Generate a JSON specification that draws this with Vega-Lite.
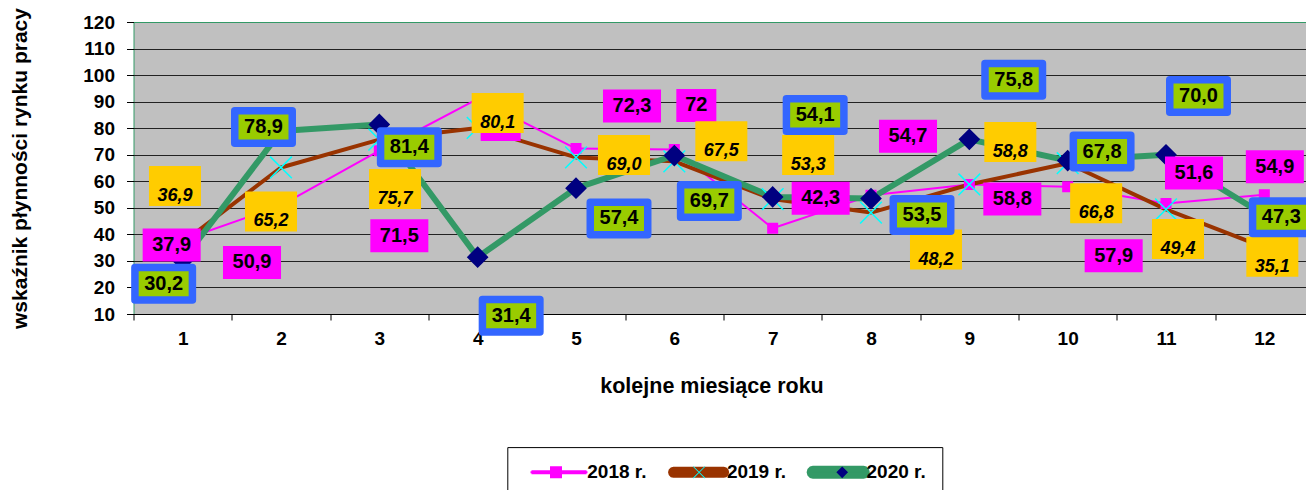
{
  "$schema": "https://vega.github.io/schema/vega-lite/v6.json",
  "autosize": "none",
  "padding": {"left": 133.5, "top": 22, "right": -7.5, "bottom": 176},
  "width": 1180,
  "height": 292,
  "config": {
    "font": "Liberation Sans",
    "locale": {"number": {"decimal": ",", "thousands": " ", "grouping": [3], "currency": ["", " zł"]}},
    "view": {"fill": "#c0c0c0", "stroke": "#339966", "strokeWidth": 1}
  },
  "data": {"values": [
    {"series": "2018 r.", "month": 1, "value": 37.9},
    {"series": "2018 r.", "month": 2, "value": 50.9},
    {"series": "2018 r.", "month": 3, "value": 71.5},
    {"series": "2018 r.", "month": 4, "value": 91},
    {"series": "2018 r.", "month": 5, "value": 72.3},
    {"series": "2018 r.", "month": 6, "value": 72},
    {"series": "2018 r.", "month": 7, "value": 42.3},
    {"series": "2018 r.", "month": 8, "value": 54.7},
    {"series": "2018 r.", "month": 9, "value": 58.8},
    {"series": "2018 r.", "month": 10, "value": 57.9},
    {"series": "2018 r.", "month": 11, "value": 51.6},
    {"series": "2018 r.", "month": 12, "value": 54.9},
    {"series": "2019 r.", "month": 1, "value": 36.9},
    {"series": "2019 r.", "month": 2, "value": 65.2},
    {"series": "2019 r.", "month": 3, "value": 75.7},
    {"series": "2019 r.", "month": 4, "value": 80.1},
    {"series": "2019 r.", "month": 5, "value": 69.0},
    {"series": "2019 r.", "month": 6, "value": 67.5},
    {"series": "2019 r.", "month": 7, "value": 53.3},
    {"series": "2019 r.", "month": 8, "value": 48.2},
    {"series": "2019 r.", "month": 9, "value": 58.8},
    {"series": "2019 r.", "month": 10, "value": 66.8},
    {"series": "2019 r.", "month": 11, "value": 49.4},
    {"series": "2019 r.", "month": 12, "value": 35.1},
    {"series": "2020 r.", "month": 1, "value": 30.2},
    {"series": "2020 r.", "month": 2, "value": 78.9},
    {"series": "2020 r.", "month": 3, "value": 81.4},
    {"series": "2020 r.", "month": 4, "value": 31.4},
    {"series": "2020 r.", "month": 5, "value": 57.4},
    {"series": "2020 r.", "month": 6, "value": 69.7},
    {"series": "2020 r.", "month": 7, "value": 54.1},
    {"series": "2020 r.", "month": 8, "value": 53.5},
    {"series": "2020 r.", "month": 9, "value": 75.8},
    {"series": "2020 r.", "month": 10, "value": 67.8},
    {"series": "2020 r.", "month": 11, "value": 70.0},
    {"series": "2020 r.", "month": 12, "value": 47.3}
  ]},
  "encoding": {
    "x": {
      "field": "month", "type": "ordinal", "bandPosition": 0.5,
      "scale": {"type": "band", "paddingInner": 0, "paddingOuter": 0},
      "axis": {
        "title": "kolejne miesiące roku", "labelAngle": 0, "tickBand": "extent",
        "tickSize": 6, "tickColor": "black", "domainColor": "black", "grid": false,
        "labelPadding": 9, "labelFont": "Liberation Sans", "labelFontSize": 19, "labelFontWeight": "bold", "labelColor": "black",
        "titleFont": "Liberation Sans", "titleFontSize": 21.5, "titleFontWeight": "bold", "titleColor": "black", "titlePadding": 27,
        "titleX": 578
      }
    },
    "y": {
      "field": "value", "type": "quantitative",
      "scale": {"domain": [10, 120], "nice": false, "zero": false},
      "axis": {
        "title": "wskaźnik płynności rynku pracy",
        "values": [10, 20, 30, 40, 50, 60, 70, 80, 90, 100, 110, 120],
        "grid": true, "gridWidth": 1,
        "gridColor": {"condition": {"test": "datum.value === 120", "value": "#339966"}, "value": "#222222"},
        "domain": false, "tickColor": "black", "tickSize": 7, "labelPadding": 12,
        "labelFont": "Liberation Sans", "labelFontSize": 19, "labelFontWeight": "bold", "labelColor": "black",
        "titleFont": "Liberation Sans", "titleFontSize": 21, "titleFontWeight": "bold", "titleColor": "black", "titlePadding": 52
      }
    }
  },
  "layer": [
    {
      "mark": {"type": "line", "strokeJoin": "round", "strokeCap": "round"},
      "encoding": {
        "stroke": {
          "field": "series", "type": "nominal",
          "scale": {"domain": ["2018 r.", "2019 r.", "2020 r."], "range": ["#ff00ff", "#993300", "#339966"]},
          "legend": {
            "title": null, "orient": "none", "legendX": 373.8, "legendY": 425.1, "direction": "horizontal", "columns": 3,
            "symbolSize": 3249, "symbolOffset": 4, "labelOffset": -3.2, "padding": 16.2,
            "columnPadding": 16.6, "clipHeight": 18, "strokeColor": "black", "symbolStrokeWidth": 0,
            "labelFont": "Liberation Sans", "labelFontSize": 19, "labelFontWeight": "bold", "labelColor": "black",
            "encode": {"symbols": {"update": {
              "shape": {"signal": "datum.value === '2018 r.' ? 'M-0.93,-0.035L0.93,-0.035L0.93,0.035L-0.93,0.035ZM-1,0L1,0' : 'M-0.877,-0.123L0.877,-0.123L0.939,-0.107L0.984,-0.062L1,0L0.984,0.062L0.939,0.107L0.877,0.123L-0.877,0.123L-0.939,0.107L-0.984,0.062L-1,0L-0.984,-0.062L-0.939,-0.107Z'"},
              "fill": {"scale": "stroke", "field": "value"},
              "fillOpacity": {"value": 1},
              "strokeWidth": {"value": 0}
            }}}
          }
        },
        "strokeWidth": {
          "field": "series", "type": "nominal",
          "scale": {"domain": ["2018 r.", "2019 r.", "2020 r."], "range": [2, 6, 7]},
          "legend": null
        }
      }
    },
    {
      "mark": {"type": "point", "filled": true, "opacity": 1, "strokeWidth": 0},
      "encoding": {
        "shape": {
          "field": "series", "type": "nominal",
          "scale": {"range": [
            "M-0.21,-0.21L0.21,-0.21L0.21,0.21L-0.21,0.21ZM-1,0L1,0",
            "M-0.215,-0.195L0.195,0.215L0.215,0.195L-0.195,-0.215ZM-0.195,0.215L0.215,-0.195L0.195,-0.215L-0.215,0.195ZM-1,0L1,0",
            "M0,-0.205L0.205,0L0,0.205L-0.205,0ZM-1,0L1,0"
          ]},
          "legend": {
            "title": null, "orient": "none", "legendX": 373.8, "legendY": 425.1, "direction": "horizontal", "columns": 3,
            "symbolSize": 3249, "symbolOffset": 4, "labelOffset": 6.8, "padding": 16.2,
            "columnPadding": 75.1, "clipHeight": 18, "strokeColor": null, "zindex": 1, "symbolStrokeWidth": 0,
            "labelExpr": "''",
            "labelFont": "Liberation Sans", "labelFontSize": 19, "labelFontWeight": "bold", "labelColor": "black"
          }
        },
        "fill": {
          "field": "series", "type": "nominal",
          "scale": {"range": ["#ff00ff", "#00ffff", "#000080"]},
          "legend": {
            "title": null, "orient": "none", "legendX": 373.8, "legendY": 425.1, "direction": "horizontal", "columns": 3,
            "symbolSize": 3249, "symbolOffset": 4, "labelOffset": 6.8, "padding": 16.2,
            "columnPadding": 75.1, "clipHeight": 18, "strokeColor": null, "zindex": 1, "symbolStrokeWidth": 0,
            "labelExpr": "''",
            "labelFont": "Liberation Sans", "labelFontSize": 19, "labelFontWeight": "bold", "labelColor": "black"
          }
        },
        "size": {"condition": {"test": "datum.series === '2018 r.'", "value": 2744}, "value": 11210}
      }
    },
    {
      "transform": [{"filter": "datum.series === '2018 r.'"}],
      "mark": {
        "type": "point", "filled": true, "fill": "#ff00ff", "opacity": 1, "strokeWidth": 0, "size": 3600,
        "xOffset": {"expr": "[-11,-29,20,23,56,22,48,37,43,46,28,10.5][datum.month - 1]"},
        "yOffset": {"expr": "[5,57,85,25.5,-42.5,-44,-30,-59,14.5,69,-30.5,-28][datum.month - 1]"}
      },
      "encoding": {
        "shape": {"condition": {"test": "datum.value % 1 === 0", "value": "M-0.667,-0.55L0.667,-0.55L0.667,0.55L-0.667,0.55Z"}, "value": "M-0.967,-0.55L0.967,-0.55L0.967,0.55L-0.967,0.55Z"}
      }
    },
    {
      "transform": [{"filter": "datum.series === '2018 r.' && datum.month !== 4"}],
      "mark": {
        "type": "text", "font": "Liberation Sans", "fontWeight": "bold", "fontSize": 20, "color": "black",
        "align": "center", "baseline": "middle",
        "dx": {"expr": "[-11,-29,20,23,56,22,48,37,43,46,28,10.5][datum.month - 1]"},
        "dy": {"expr": "[5,57,85,25.5,-42.5,-44,-30,-59,14.5,69,-30.5,-28][datum.month - 1]"}
      },
      "encoding": {"text": {"field": "value", "type": "quantitative", "format": ".1~f"}}
    },
    {
      "transform": [{"filter": "datum.series === '2019 r.'"}],
      "mark": {
        "type": "point", "filled": true, "fill": "#ffcc00", "opacity": 1, "strokeWidth": 0, "size": 3600,
        "shape": "M-0.867,-0.667L0.867,-0.667L0.867,0.667L-0.867,0.667Z",
        "xOffset": {"expr": "[-7.7,-10,15.7,20,48,47,35.5,65,41,28.5,12,8][datum.month - 1]"},
        "yOffset": {"expr": "[-56.6,44,49.4,-15,-2.4,-20,-44,37,-42.5,40,29.6,9.3][datum.month - 1]"}
      }
    },
    {
      "transform": [{"filter": "datum.series === '2019 r.'"}],
      "mark": {
        "type": "text", "font": "Liberation Sans", "fontWeight": "bold", "fontStyle": "italic", "fontSize": 18, "color": "black",
        "align": "center", "baseline": "middle",
        "dx": {"expr": "[-7.7,-10,15.7,20,48,47,35.5,65,41,28.5,12,8][datum.month - 1]"},
        "dy": {"expr": "[-56.6,44,49.4,-15,-2.4,-20,-44,37,-42.5,40,29.6,9.3][datum.month - 1] + 10"}
      },
      "encoding": {"text": {"field": "value", "type": "quantitative", "format": ".1f"}}
    },
    {
      "transform": [{"filter": "datum.series === '2020 r.'"}],
      "mark": {
        "type": "point", "filled": true, "fill": "#99cc00", "stroke": "#3366ff", "strokeWidth": 7.5, "strokeJoin": "round",
        "opacity": 1, "size": 3600,
        "shape": "M-0.958,-0.542L0.958,-0.542L0.958,0.542L-0.958,0.542Z",
        "xOffset": {"expr": "[-19,-17.5,30,33.5,43,35,42.5,51,44.4,34.4,32.5,17][datum.month - 1]"},
        "yOffset": {"expr": "[23.3,-4,22.7,58.5,30.3,45.5,-82,16.5,-59.6,-9,-58.7,2.3][datum.month - 1]"}
      }
    },
    {
      "transform": [{"filter": "datum.series === '2020 r.'"}],
      "mark": {
        "type": "text", "font": "Liberation Sans", "fontWeight": "bold", "fontSize": 20, "color": "black",
        "align": "center", "baseline": "middle",
        "dx": {"expr": "[-19,-17.5,30,33.5,43,35,42.5,51,44.4,34.4,32.5,17][datum.month - 1]"},
        "dy": {"expr": "[23.3,-4,22.7,58.5,30.3,45.5,-82,16.5,-59.6,-9,-58.7,2.3][datum.month - 1]"}
      },
      "encoding": {"text": {"field": "value", "type": "quantitative", "format": ".1f"}}
    }
  ]
}
